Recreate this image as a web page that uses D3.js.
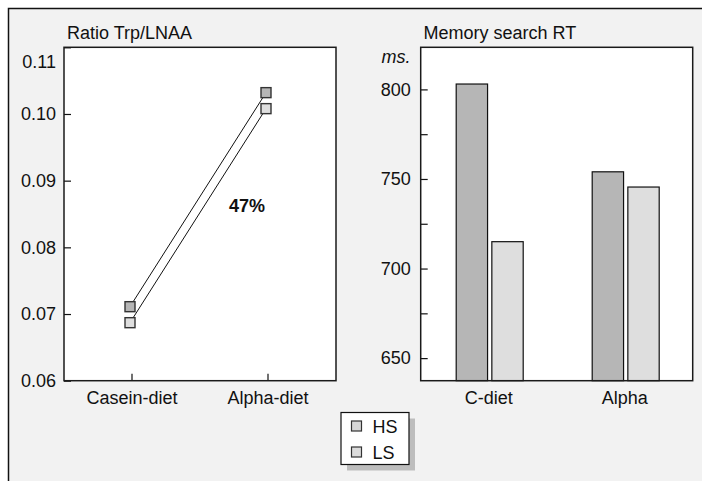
<!DOCTYPE html>
<html>
<head>
<meta charset="utf-8">
<script src="https://cdn.jsdelivr.net/npm/d3@7"></script>
<style>
  html, body { margin: 0; padding: 0; background: #ffffff; }
  svg { display: block; }
  text { font-family: "Liberation Sans", Arial, Helvetica, sans-serif; fill: #111; }
</style>
</head>
<body>
<svg id="chart" width="702" height="481"></svg>
<script>
// ---- data ----
const leftCategories = ["Casein-diet", "Alpha-diet"];
const rightCategories = ["C-diet", "Alpha"];
const seriesNames = ["HS", "LS"];
const ratioHS = [0.0711, 0.1032];
const ratioLS = [0.0687, 0.1008];
const rtHS = [803, 754];
const rtLS = [715, 745.5];
const ratioTicks = [0.06, 0.07, 0.08, 0.09, 0.10, 0.11];
const rtTicks = [650, 675, 700, 725, 750, 775, 800];
const rtLabelled = [650, 700, 750, 800];
const leftTitle = "Ratio Trp/LNAA";
const rightTitle = "Memory search RT";
const rightUnit = "ms.";
const changeLabel = "47%";

// ---- style ----
const seriesFill = {HS: "#b6b6b6", LS: "#dedede"};
const legendFill = {HS: "#d6d6d6", LS: "#dcdcdc"};
const FS = 18;

const svg = d3.select("#chart");

// outer frame
svg.append("rect")
  .attr("x", 8.5).attr("y", 8.5).attr("width", 800).attr("height", 600)
  .attr("fill", "#f2f2f2").attr("stroke", "#111").attr("stroke-width", 1.5);

// ---------- LEFT PANEL ----------
const L = {x0: 64, x1: 336, y0: 47.3, y1: 380.7};
const xL = d3.scaleBand().domain(leftCategories).range([L.x0, L.x1]);
const yL = d3.scaleLinear().domain([0.06, 0.11]).range([L.y1, L.y0]);

const gL = svg.append("g");
gL.append("rect")
  .attr("x", L.x0).attr("y", L.y0).attr("width", L.x1 - L.x0).attr("height", L.y1 - L.y0)
  .attr("fill", "#fff");

const yAxisL = gL.append("g")
  .attr("transform", `translate(${L.x0},0)`)
  .call(d3.axisLeft(yL).tickValues(ratioTicks).tickFormat(d3.format(".2f"))
    .tickSizeInner(-7).tickSizeOuter(0).tickPadding(8));
yAxisL.select(".domain").remove();
yAxisL.selectAll("line").attr("stroke", "#111").attr("stroke-width", 1.2);
yAxisL.selectAll("text").attr("font-size", FS).style("font-family", null)
  .attr("dy", d => Math.abs(yL(d) - L.y0) < 1 ? "1.15em" : "0.32em");
yAxisL.attr("font-family", null);

const xAxisL = gL.append("g")
  .attr("transform", `translate(0,${L.y1})`)
  .call(d3.axisBottom(xL).tickSizeInner(-7).tickSizeOuter(0).tickPadding(11));
xAxisL.select(".domain").remove();
xAxisL.selectAll("line").attr("stroke", "#111").attr("stroke-width", 1.2);
xAxisL.selectAll("text").attr("font-size", FS);
xAxisL.attr("font-family", null);

// lines
const cx = c => xL(c) + xL.bandwidth() / 2 - 2;
const lineGen = d3.line().x(d => cx(d.cat)).y(d => yL(d.v));
const leftSeries = [
  {name: "LS", values: ratioLS},
  {name: "HS", values: ratioHS}
];
leftSeries.forEach(s => {
  const pts = leftCategories.map((c, i) => ({cat: c, v: s.values[i]}));
  gL.append("path").datum(pts)
    .attr("d", lineGen).attr("fill", "none").attr("stroke", "#111").attr("stroke-width", 1);
});
const MS = 10;
leftSeries.forEach(s => {
  leftCategories.forEach((c, i) => {
    gL.append("rect")
      .attr("x", cx(c) - MS / 2).attr("y", yL(s.values[i]) - MS / 2)
      .attr("width", MS).attr("height", MS)
      .attr("fill", seriesFill[s.name]).attr("stroke", "#333").attr("stroke-width", 1.4);
  });
});

gL.append("text").attr("x", 247).attr("y", 212).attr("text-anchor", "middle")
  .attr("font-size", FS).attr("font-weight", "bold").text(changeLabel);

gL.append("rect")
  .attr("x", L.x0).attr("y", L.y0).attr("width", L.x1 - L.x0).attr("height", L.y1 - L.y0)
  .attr("fill", "none").attr("stroke", "#1a1a1a").attr("stroke-width", 1.5);

gL.append("text").attr("x", 67).attr("y", 39).attr("font-size", FS).text(leftTitle);

// ---------- RIGHT PANEL ----------
const R = {x0: 420.7, x1: 692.7, y0: 47.3, y1: 380.7};
const xR = d3.scaleBand().domain(rightCategories).range([R.x0, R.x1]);
const xSub = d3.scaleBand().domain(seriesNames).range([0, 67]).paddingInner(0.12);
const yR = d3.scaleLinear().domain([637.4, 823.5]).range([R.y1, R.y0]);

const gR = svg.append("g");
gR.append("rect")
  .attr("x", R.x0).attr("y", R.y0).attr("width", R.x1 - R.x0).attr("height", R.y1 - R.y0)
  .attr("fill", "#fff");

const yAxisR = gR.append("g")
  .attr("transform", `translate(${R.x0},0)`)
  .call(d3.axisLeft(yR).tickValues(rtTicks)
    .tickFormat(d => rtLabelled.includes(d) ? d3.format("d")(d) : "")
    .tickSizeInner(-7).tickSizeOuter(0).tickPadding(10));
yAxisR.select(".domain").remove();
yAxisR.selectAll("line").attr("stroke", "#111").attr("stroke-width", 1.2);
yAxisR.selectAll("text").attr("font-size", FS);
yAxisR.attr("font-family", null);

const xAxisR = gR.append("g")
  .attr("transform", `translate(0,${R.y1})`)
  .call(d3.axisBottom(xR).tickSize(0).tickPadding(11));
xAxisR.select(".domain").remove();
xAxisR.selectAll("text").attr("font-size", FS);
xAxisR.attr("font-family", null);

const barData = [];
rightCategories.forEach((c, i) => {
  barData.push({cat: c, s: "HS", v: rtHS[i]});
  barData.push({cat: c, s: "LS", v: rtLS[i]});
});
gR.selectAll("rect.bar").data(barData).enter().append("rect")
  .attr("class", "bar")
  .attr("x", d => xR(d.cat) + xR.bandwidth() / 2 - 32.5 + xSub(d.s))
  .attr("y", d => yR(d.v))
  .attr("width", xSub.bandwidth())
  .attr("height", d => R.y1 - yR(d.v))
  .attr("fill", d => seriesFill[d.s])
  .attr("stroke", "#111").attr("stroke-width", 1.2);

gR.append("rect")
  .attr("x", R.x0).attr("y", R.y0).attr("width", R.x1 - R.x0).attr("height", R.y1 - R.y0)
  .attr("fill", "none").attr("stroke", "#1a1a1a").attr("stroke-width", 1.5);

gR.append("text").attr("x", 423.5).attr("y", 39).attr("font-size", FS).text(rightTitle);
gR.append("text").attr("x", 410.5).attr("y", 63).attr("text-anchor", "end")
  .attr("font-size", FS).attr("font-style", "italic").text(rightUnit);

// ---------- LEGEND ----------
const LG = {x: 341, y: 412.5, w: 68, h: 52};
const gLeg = svg.append("g");
gLeg.append("rect").attr("x", LG.x + 6).attr("y", LG.y + 6).attr("width", LG.w).attr("height", LG.h)
  .attr("fill", "#bdbdbd");
gLeg.append("rect").attr("x", LG.x).attr("y", LG.y).attr("width", LG.w).attr("height", LG.h)
  .attr("fill", "#fff").attr("stroke", "#111").attr("stroke-width", 1.2);
const legY = d3.scalePoint().domain(seriesNames).range([LG.y + 13.5, LG.y + 39.5]);
seriesNames.forEach(s => {
  gLeg.append("rect").attr("x", 351.5).attr("y", legY(s) - 5).attr("width", 10).attr("height", 10)
    .attr("fill", legendFill[s]).attr("stroke", "#333").attr("stroke-width", 1.2);
  gLeg.append("text").attr("x", 372.5).attr("y", legY(s) + 6.5).attr("font-size", FS).text(s);
});
</script>
</body>
</html>
